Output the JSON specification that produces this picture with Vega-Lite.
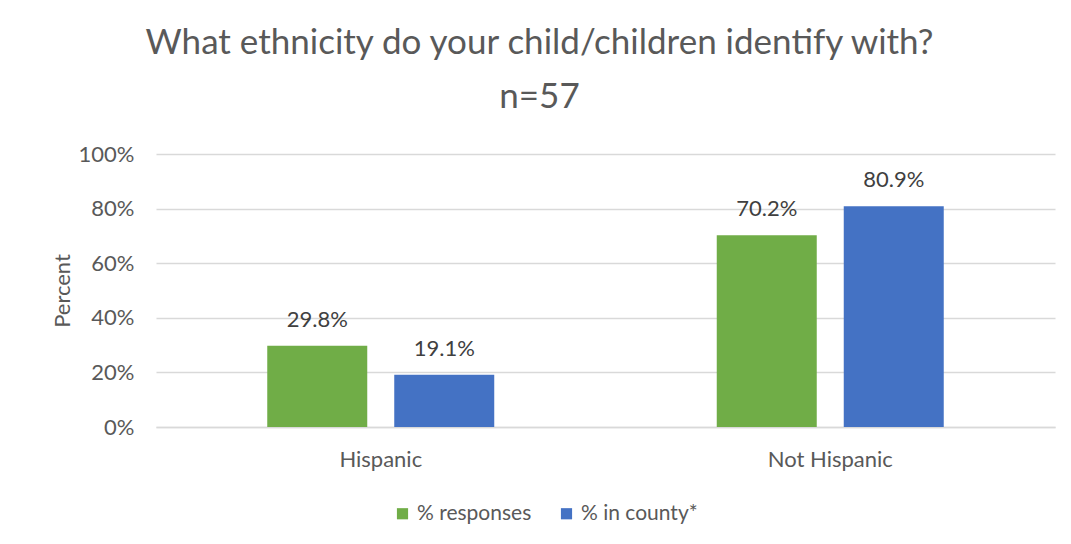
{
  "$schema": "https://vega.github.io/schema/vega-lite/v6.json",
  "autosize": {"type": "none"},
  "width": 899,
  "height": 273,
  "padding": {"left": 156, "top": 154, "right": 16, "bottom": 117},
  "background": "white",
  "title": {
    "text": ["What ethnicity do your child/children identify with?", "n=57"],
    "anchor": "middle",
    "dx": -66,
    "offset": 28,
    "font": "Lato",
    "fontSize": 35,
    "fontWeight": "normal",
    "color": "#595959",
    "lineHeight": 54
  },
  "data": {
    "values": [
      {"group": "Hispanic", "series": "% responses", "value": 0.298},
      {"group": "Hispanic", "series": "% in county*", "value": 0.191},
      {"group": "Not Hispanic", "series": "% responses", "value": 0.702},
      {"group": "Not Hispanic", "series": "% in county*", "value": 0.809}
    ]
  },
  "encoding": {
    "x": {
      "field": "group", "type": "nominal",
      "scale": {"paddingInner": 0, "paddingOuter": 0},
      "axis": {"title": null, "labelAngle": 0, "labelFont": "Lato", "labelFontSize": 22, "labelColor": "#595959", "labelPadding": 22, "ticks": false, "domainColor": "#d9d9d9", "domainWidth": 1.5}
    },
    "xOffset": {"field": "series", "type": "nominal", "sort": ["% responses", "% in county*"], "scale": {"paddingInner": 0.2126, "paddingOuter": 0.876}},
    "y": {
      "field": "value", "type": "quantitative",
      "scale": {"domain": [0, 1]},
      "axis": {"title": "Percent", "format": ".0%", "values": [0, 0.2, 0.4, 0.6, 0.8, 1], "labelOverlap": false, "labelFont": "Lato", "labelFontSize": 22, "labelColor": "#595959", "labelPadding": 22, "ticks": false, "domain": false, "gridColor": "#d9d9d9", "gridWidth": 1.5, "titleFont": "Lato", "titleFontSize": 22, "titleFontWeight": "normal", "titleColor": "#595959", "titlePadding": 4}
    }
  },
  "layer": [
    {
      "mark": {"type": "bar"},
      "encoding": {
        "color": {
          "field": "series", "type": "nominal", "sort": ["% responses", "% in county*"],
          "scale": {"domain": ["% responses", "% in county*"], "range": ["#70AD47", "#4472C4"]},
          "legend": {"title": null, "orient": "none", "direction": "horizontal", "legendX": 236, "legendY": 349, "symbolType": "square", "symbolSize": 125, "symbolStrokeWidth": 0, "labelFont": "Lato", "labelFontSize": 21, "labelColor": "#595959", "columnPadding": 24, "labelOffset": 4}
        }
      }
    },
    {
      "mark": {"type": "text", "dy": -26, "font": "Lato", "fontSize": 22, "color": "#404040"},
      "encoding": {
        "text": {"field": "value", "type": "quantitative", "format": ".1%"}
      }
    }
  ],
  "config": {"view": {"stroke": null}}
}
